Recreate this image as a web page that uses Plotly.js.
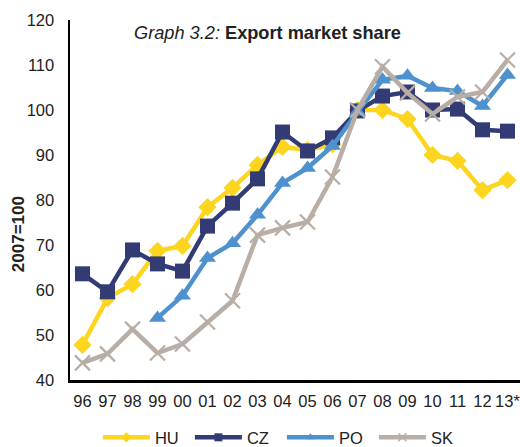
<!DOCTYPE html>
<html><head><meta charset="utf-8">
<script src="https://cdn.plot.ly/plotly-3.0.1.min.js"></script>
<style>body{margin:0;background:#fff}#chart{width:520px;height:447px}</style>
</head><body><div id="chart"></div>
<script>
var years = ['96','97','98','99','00','01','02','03','04','05','06','07','08','09','10','11','12','13*'];
var HU = [47.8,58.2,61.3,68.7,69.8,78.4,82.7,87.8,91.8,91.1,92.4,100,100,98,90,88.7,82.2,84.4];
var CZ = [63.6,59.6,68.9,65.8,64.2,74.2,79.3,84.7,95.1,90.9,93.8,99.8,103.1,104,100,100.2,95.6,95.3];
var PO = [null,null,null,53.8,58.7,67.1,70.4,76.7,83.8,87.1,92,99.6,106.7,107.6,104.9,104.2,100.9,107.8];
var SK = [43.8,45.8,51.3,46,48,52.9,57.6,72.2,73.8,75.1,85.1,100,109.6,103.8,99.1,102.9,104,111.1];
var names = ['HU','CZ','PO','SK'];
var colors = ['#FDD41E','#333B75','#4D91CF','#B8AEA6'];
var symbols = ['diamond','square','triangle-up','x-thin-open'];
var sizes = [14,15,15,15];
var series = [HU,CZ,PO,SK];

var traces = [];
series.forEach(function(s,i){
  traces.push({name:names[i], x:years, y:s, mode:'lines+markers', showlegend:false,
    line:{color:colors[i], width:4.5},
    marker:{symbol:symbols[i], size:sizes[i], color:colors[i], line:{width: i===3?2.2:0, color:colors[i]}}});
});
series.forEach(function(s,i){
  traces.push({name:names[i], x:[years[0]], y:[null], mode:'lines+markers', showlegend:true,
    line:{color:colors[i], width:4.5},
    marker:{symbol:symbols[i], size:8, color:colors[i], line:{width: i===3?1.5:0, color:colors[i]}}});
});
var layout = {
  width:520, height:447,
  margin:{l:70, r:0, t:20, b:67, autoexpand:false},
  paper_bgcolor:'#fff', plot_bgcolor:'#fff',
  font:{family:'Liberation Sans, Arial, sans-serif', size:16, color:'#222'},
  showlegend:true,
  legend:{orientation:'h', x:0.062, xanchor:'left', y:-0.16, yanchor:'middle', font:{size:16.5}, itemwidth:47, entrywidth:30, entrywidthmode:'pixels', traceorder:'normal', tracegroupgap:0},
  xaxis:{type:'category', range:[-0.5,17.5], showgrid:false, zeroline:false, showline:true, linecolor:'#000', linewidth:3, ticks:'', tickfont:{size:16.5}, ticklabelstandoff:4, fixedrange:true},
  yaxis:{range:[40,120], dtick:10, showgrid:false, zeroline:false, showline:true, linecolor:'#000', linewidth:2.5, ticks:'', tickfont:{size:16.5}, ticklabelstandoff:10},
  annotations:[
    {text:'<i>Graph 3.2:</i> <b>Export market share</b>', xref:'paper', yref:'paper', x:0.438, y:0.964, xanchor:'center', yanchor:'middle', showarrow:false, font:{size:18.2, color:'#222'}},
    {text:'<b>2007=100</b>', xref:'paper', yref:'paper', x:-0.1156, y:0.405, xanchor:'center', yanchor:'middle', textangle:-90, showarrow:false, font:{size:17, color:'#222'}}
  ]
};
Plotly.newPlot('chart', traces, layout, {displayModeBar:false, staticPlot:true});
</script></body></html>
